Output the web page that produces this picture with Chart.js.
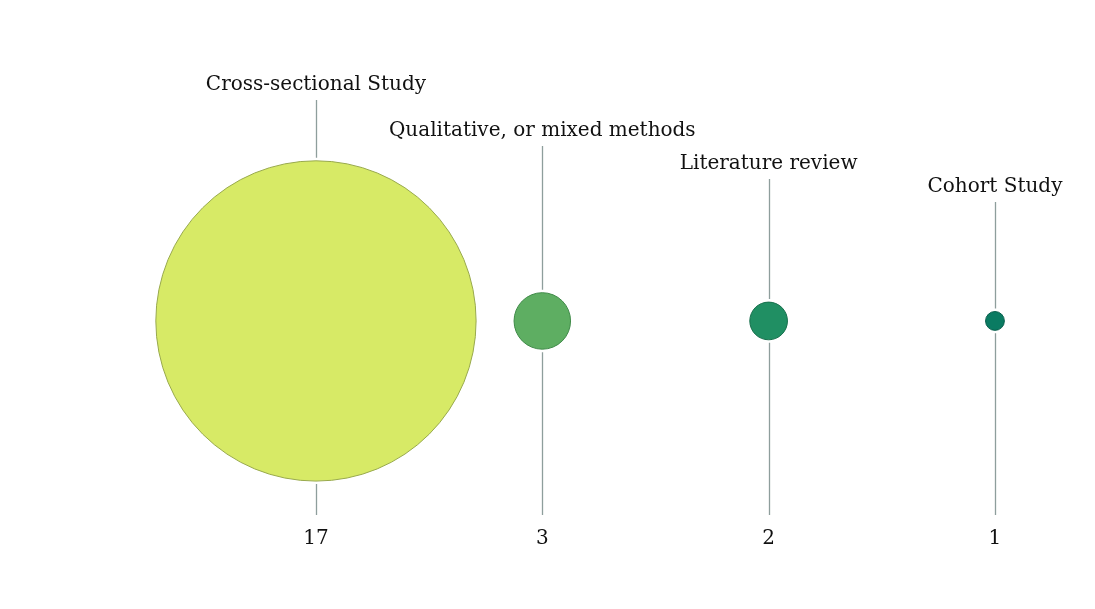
<!DOCTYPE html>
<html>
<head>
<meta charset="utf-8">
<script src="https://cdn.jsdelivr.net/npm/chart.js@4"></script>
<style>
  html, body { margin: 0; padding: 0; background: #fff; }
  #wrap { width: 1095px; height: 609px; }
</style>
</head>
<body>
<div id="wrap"><canvas id="chart" width="1095" height="609"></canvas></div>
<script>
// Study types and how many studies of each
const categories = ["Cross-sectional Study", "Qualitative, or mixed methods", "Literature review", "Cohort Study"];
const counts = [17, 3, 2, 1];
const positions = [0, 1, 2, 3];

const FILLS   = ["#d7ea66", "#5eae62", "#208f63", "#0a7b62"];
const BORDERS = ["#98a94c", "#3f8a48", "#176f4c", "#075e4b"];
const LABEL_TOP = [85, 131, 164, 187];  // label centre y (px), staggered
const PX_PER_UNIT = 9.42;               // bubble radius per study
const LINE_BOTTOM = 515;
const VALUE_Y = 539;
const FONT = "20px 'DejaVu Serif', 'Liberation Serif', serif";

const stemPlugin = {
  id: "stems",
  beforeDatasetsDraw(chart) {
    const { ctx, scales: { x, y } } = chart;
    ctx.save();
    ctx.strokeStyle = "#8e9e9c";
    ctx.lineWidth = 1.3;
    counts.forEach((v, i) => {
      const px = Math.round(x.getPixelForValue(positions[i])) + 0.5;
      const cy = y.getPixelForValue(0);
      const r = v * PX_PER_UNIT;
      ctx.beginPath();
      ctx.moveTo(px, LABEL_TOP[i] + 15);
      ctx.lineTo(px, cy - r - 3);
      ctx.moveTo(px, cy + r + 3);
      ctx.lineTo(px, LINE_BOTTOM);
      ctx.stroke();
    });
    ctx.restore();
  },
  afterDatasetsDraw(chart) {
    const { ctx, scales: { x } } = chart;
    ctx.save();
    ctx.fillStyle = "#111";
    ctx.font = FONT;
    ctx.textAlign = "center";
    ctx.textBaseline = "middle";
    counts.forEach((v, i) => {
      const px = x.getPixelForValue(positions[i]);
      ctx.fillText(categories[i], px, LABEL_TOP[i]);
      ctx.fillText(String(v), px, VALUE_Y);
    });
    ctx.restore();
  }
};

new Chart(document.getElementById("chart"), {
  type: "bubble",
  data: {
    datasets: [{
      data: counts.map((v, i) => ({ x: positions[i], y: 0, r: v * PX_PER_UNIT })),
      backgroundColor: FILLS,
      borderColor: BORDERS,
      borderWidth: 1,
      hoverRadius: 0,
      clip: false
    }]
  },
  options: {
    responsive: false,
    animation: false,
    layout: { padding: 0, autoPadding: false },
    plugins: { legend: { display: false }, tooltip: { enabled: false } },
    scales: {
      x: { type: "linear", display: false, min: -1.396, max: 3.442 },
      y: { type: "linear", display: false, min: -0.946, max: 1.054 }
    }
  },
  plugins: [stemPlugin]
});
</script>
</body>
</html>
